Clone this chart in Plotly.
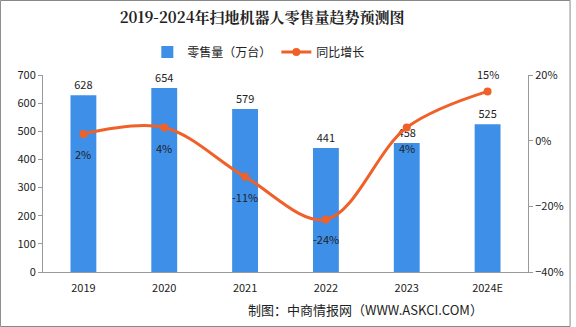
import plotly.graph_objects as go

years = ["2019", "2020", "2021", "2022", "2023", "2024E"]
sales = [628, 654, 579, 441, 458, 525]
growth = [2, 4, -11, -24, 4, 15]
growth_labels = ["2%", "4%", "-11%", "-24%", "4%", "15%"]
label_above = [False, False, False, False, False, True]

BLUE = "#3D8FE8"
ORANGE = "#F0612A"
FONT = "Noto Sans CJK SC"

fig = go.Figure()
fig.add_trace(go.Bar(
    x=years, y=sales, name="零售量（万台）",
    marker=dict(color=BLUE, line=dict(width=0)),
    text=[str(v) for v in sales], textposition="outside",
    textfont=dict(size=11, color="#222"), cliponaxis=False,
))
fig.add_trace(go.Scatter(
    x=years, y=growth, name="同比增长", yaxis="y2",
    mode="lines+markers", line=dict(color=ORANGE, width=3, shape="spline"),
    marker=dict(color=ORANGE, size=8), cliponaxis=False,
))

annotations = []
for i, (g, lab, up) in enumerate(zip(growth, growth_labels, label_above)):
    annotations.append(dict(x=i, y=g, xref="x", yref="y2", text=lab, showarrow=False,
                            yshift=17 if up else -20, font=dict(size=11, color="#222")))
annotations.append(dict(text="制图：中商情报网（WWW.ASKCI.COM）", xref="paper", yref="paper",
                        x=(490 - 43) / 490, xanchor="right", y=-(309 - 272) / 197, yanchor="middle",
                        showarrow=False, font=dict(size=13, color="#222")))

fig.update_layout(
    width=576, height=327,
    margin=dict(l=43, r=43, t=75, b=55),
    paper_bgcolor="white", plot_bgcolor="white",
    font=dict(family=FONT, size=11, color="#222"),
    bargap=0.68,
    showlegend=True,
    title=dict(text="<b>2019-2024年扫地机器人零售量趋势预测图</b>",
               x=0.455, xanchor="center", y=0.945, yanchor="middle",
               font=dict(family="Noto Serif CJK SC, Noto Sans CJK SC", size=15, color="#222")),
    legend=dict(orientation="h", x=0.445, xanchor="center", y=1.117, yanchor="middle",
                font=dict(size=12, color="#222"), bgcolor="rgba(0,0,0,0)",
                itemwidth=30, tracegroupgap=0),
    xaxis=dict(type="category", showline=True, linecolor="#999", linewidth=1, ticks="",
               tickfont=dict(size=11), showgrid=False, zeroline=False, ticklabelstandoff=6),
    yaxis=dict(range=[0, 700], dtick=100, showline=True, linecolor="#999", linewidth=1,
               ticks="outside", ticklen=4, tickcolor="#999", showgrid=False, zeroline=False,
               tickfont=dict(size=11)),
    yaxis2=dict(range=[-40, 20], dtick=20, overlaying="y", side="right",
                showline=True, linecolor="#999", linewidth=1, ticks="outside", ticklen=4,
                tickcolor="#999", ticksuffix="%", showgrid=False, zeroline=False,
                tickfont=dict(size=11)),
    annotations=annotations,
    shapes=[dict(type="rect", xref="paper", yref="paper",
                 x0=-43 / 490, x1=1 + 42.5 / 490, y0=-54.5 / 197, y1=1 + 74.5 / 197,
                 line=dict(color="#888", width=1))],
)

fig.write_html("out.html")
